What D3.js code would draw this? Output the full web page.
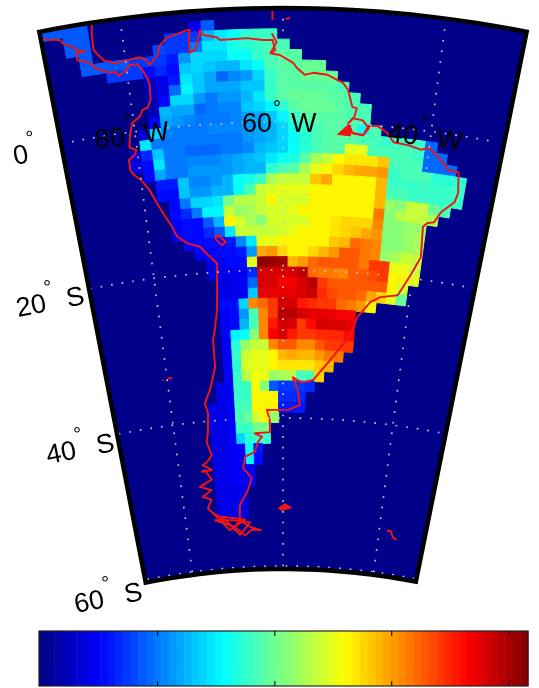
<!DOCTYPE html>
<html>
<head>
<meta charset="utf-8">
<script src="https://cdn.jsdelivr.net/npm/d3@7"></script>
<style>
html, body { margin: 0; padding: 0; background: #fff; }
svg { display: block; filter: blur(0.6px); }
text { font-family: "Liberation Sans", sans-serif; fill: #000; }
</style>
</head>
<body>
<div id="chart"></div>
<script>
const width = 539, height = 688;

// grid rows, north to south
const gridLats = [14.7,13.3,11.9,10.5,9.1,7.7,6.3,4.9,3.5,2.1,0.7,-0.7,-2.1,-3.5,-4.9,-6.3,-7.7,-9.1,-10.5,-11.9,-13.3,-14.7,-16.1,-17.5,-18.9,-20.3,-21.7,-23.1,-24.5,-25.9,-27.3,-28.7,-30.1,-31.5,-32.9,-34.3,-35.7,-37.1,-38.5,-39.9,-41.3,-42.7,-44.1,-45.5,-46.9,-48.3,-49.7,-51.1,-52.5];
const dLat = 1.4, dLon = 1.56;

// first column of each row, counted from 60W
const rowStart = [-20,-17,-17,-16,-16,-14,-11,-11,-11,-11,-11,-12,-12,-13,-13,-12,-11,-11,-10,-10,-10,-10,-9,-8,-7,-7,-6,-6,-6,-6,-6,-6,-6,-6,-6,-6,-7,-7,-8,-8,-8,-8,-8,-8,-8,-8,-8,-8,-8];

// field values as colormap index 0-63, 0 = sea
const fieldRows = [
  [13,13,13,13,13],
  [13,13,0,0,0,0,0,0,0,0,6,13],
  [13,13,0,0,0,0,0,0,11,11,11,19,22,24,26,27,27],
  [13,0,0,0,0,0,12,11,11,15,22,22,25,26,27,28,28],
  [13,13,13,13,11,11,11,9,17,21,21,21,24,24,27,28,29,29],
  [11,11,11,8,10,8,20,21,20,19,19,22,24,28,29,29,30,30],
  [4,6,9,22,20,18,14,16,17,21,27,29,29,30,30,30],
  [3,6,14,23,20,18,18,18,20,20,27,29,29,29,29,29,28],
  [3,8,21,21,17,15,17,17,19,22,27,29,30,30,30,29,29,28],
  [3,19,18,18,14,15,16,16,20,21,23,26,29,30,30,30,29,28,28],
  [8,18,17,16,15,15,15,16,18,18,20,23,27,29,29,29,29,28,28],
  [5,21,16,15,15,15,16,16,16,17,18,19,21,25,27,28,29,29,28,24,28],
  [22,15,15,15,15,15,15,15,15,17,18,19,21,24,26,28,29,29,29,28,28,27,27,27,27,14],
  [5,10,20,15,15,14,14,14,15,15,16,19,20,21,24,26,28,29,29,38,38,28,28,28,28,27,14,14],
  [6,8,22,15,15,16,16,16,17,18,19,20,22,24,25,29,34,36,40,41,41,41,43,28,28,28,14,14,14],
  [8,18,15,15,17,17,17,17,18,19,19,26,28,29,34,38,40,42,44,45,45,46,27,28,28,28,26,26,26],
  [9,9,20,16,16,17,19,24,25,27,34,36,36,36,43,45,40,40,40,40,44,27,27,27,27,27,27,27],
  [8,8,20,17,17,19,19,24,28,36,37,38,38,38,40,40,40,40,40,40,44,28,28,27,27,27,27,27],
  [8,15,21,21,22,31,35,35,36,40,37,37,37,40,40,40,40,40,40,44,33,32,36,36,30,28],
  [8,10,15,23,23,36,33,34,36,37,37,38,40,40,40,40,40,40,40,48,32,35,36,36,34],
  [7,8,8,13,19,40,37,34,32,37,37,37,37,40,40,41,42,42,42,47,32,32,33,33],
  [7,8,8,10,13,22,36,36,36,36,37,38,40,40,40,41,42,43,45,46,32,32,33,34],
  [7,8,8,8,9,16,22,38,38,40,40,40,40,40,43,44,49,48,47,32,32,33,34],
  [7,7,8,8,9,17,45,46,42,40,40,42,44,46,50,50,48,47,33,34,36,36],
  [6,7,8,8,38,63,62,61,44,46,49,50,50,50,50,48,52,52,38,38,36],
  [5,6,6,7,10,58,58,58,58,60,49,48,48,47,50,50,51,52,40,40,38],
  [6,6,7,14,58,58,56,56,58,60,52,50,50,50,50,50,50,40,36],
  [6,6,7,20,57,57,57,57,58,59,53,51,50,50,49,45,42,38,30],
  [8,8,21,47,49,52,58,58,54,53,52,52,49,48,46,40],
  [7,8,17,28,47,52,60,60,58,57,57,57,56,56],
  [7,8,19,28,47,54,58,58,52,55,58,58,58,57],
  [7,23,24,32,47,56,58,54,52,52,53,53,53,55],
  [7,26,33,36,36,47,50,50,47,47,50,52,52,52],
  [7,27,36,38,38,40,44,45,44,44,46,48,48],
  [7,26,37,38,38,40,41,41,41,41,43,44],
  [7,27,35,39,38,33,34,35,28,28,42],
  [6,7,27,27,39,32,13,11,11,11,10],
  [6,7,27,27,40,40,40,10,10,10],
  [6,6,7,28,28,40,40,40,9,9,9],
  [6,6,7,28,30,37,40,33],
  [6,6,7,27,27,31,31],
  [6,6,7,21,26,27,27],
  [6,6,7,7,24,9],
  [6,6,7,7,23,8],
  [6,6,7,7,7],
  [6,6,7,7,7],
  [6,6,6,6],
  [6,6,6,6],
  [6,6,6,6]
];

// coastlines, lon/lat
const mainCoast = [[-89.9,14.3],[-87.7,13.8],[-87.4,13.2],[-86.5,12.7],[-85.7,12],[-84.8,11.7],[-86,11.7],[-86,10.7],[-84.7,10.2],[-83.8,9.2],[-82.3,8.4],[-81.4,8.3],[-81.1,7.7],[-80.1,8.4],[-79.6,9],[-78.6,9],[-78,8.1],[-77.5,7],[-77.3,6],[-77.4,4],[-77.9,3],[-78.6,2.8],[-79.1,1.9],[-80.2,1.2],[-80.7,-0.4],[-81,-2],[-80.1,-2.5],[-80.4,-3.1],[-81.3,-3.7],[-81.3,-5.1],[-80.9,-5.8],[-80,-6.6],[-79,-8.1],[-77.9,-10.5],[-77.3,-11.7],[-76.3,-13.5],[-75.8,-14.7],[-74.3,-15.8],[-72.5,-16.4],[-71.4,-17.6],[-70.1,-18.8],[-70.6,-25.1],[-71.2,-27.8],[-71.6,-29.1],[-71.6,-32.8],[-72.8,-35.8],[-73.9,-37.5],[-73.5,-38.9],[-73.8,-41.4],[-74.2,-42.8],[-73.5,-44.6],[-74.5,-45.5],[-75.4,-45.8],[-73.7,-46.6],[-75.7,-46.7],[-75.1,-46.5],[-73.9,-47.9],[-76.4,-48.7],[-74.1,-49.3],[-76,-50.1],[-74.3,-50.6],[-75.2,-51.7],[-74.3,-52.4],[-72.9,-53],[-72,-53.9],[-70,-54.5],[-68,-55.7],[-66.5,-55],[-64.6,-55.1],[-66.9,-54.6],[-68.9,-53.6],[-68.7,-51.6],[-66.9,-49.6],[-66.1,-48],[-67.7,-46.6],[-67.2,-45.1],[-65.3,-44.5],[-64.7,-43.2],[-63.9,-42.5],[-65.2,-42],[-62.4,-41.9],[-62.4,-40.3],[-62.9,-38.9],[-61.1,-38.9],[-59.1,-38.9],[-57,-38.2],[-57.4,-36.2],[-58.3,-34.5],[-56.7,-35.2],[-54.8,-34.8],[-52,-32],[-48.9,-28.5],[-48,-26],[-46.1,-23.8],[-44.6,-23],[-41.9,-22.5],[-40.3,-19.6],[-39.1,-17],[-39.4,-12.9],[-38.8,-12.3],[-37.9,-12.1],[-37.1,-10.6],[-35.4,-9],[-35.1,-7.7],[-35.5,-4.9],[-37,-4.8],[-38.2,-3.6],[-40,-2.2],[-41.1,-2.6],[-42.8,-2.2],[-44.9,-2],[-45.9,-0.8],[-47.3,0],[-48.5,-0.1],[-49.1,-1.4],[-50.6,-1.2],[-51.2,0.1],[-50.6,0.8],[-50.4,1.2],[-50.2,2.2],[-50.8,2.3],[-51.5,4.6],[-52.2,5.5],[-54.3,6.5],[-56.1,6.7],[-57.2,6.4],[-58.2,7.3],[-58.7,8],[-60.4,9.05],[-61.6,9.3],[-61,9.7],[-61.3,11.1],[-62.5,11.1],[-64.5,11.4],[-67.9,11.3],[-68.3,11.7],[-70,12.1],[-70.3,12.8],[-71.1,10.2],[-71.8,9.8],[-71.8,11.8],[-71.6,12.9],[-72,12.9],[-74.5,12.1],[-75.5,11.2],[-75.9,9.9],[-77,8.7],[-77.4,9.4],[-78.2,9.9],[-81.2,9.5],[-82.7,10.1],[-83.8,11.7],[-83.7,14],[-83.5,15.3]];
const marajoCoast = [[-48.5,-0.1],[-48.4,-0.4],[-49.1,-1.4],[-50.6,-1.2],[-51.2,0.1],[-50.6,0.8],[-49.3,0.6],[-48.4,-0.4]];
const tipCoast = [[-74.3,-52.4],[-71.1,-54.9],[-67.8,-53.6],[-72.5,-53],[-69,-55.6],[-66.8,-54],[-70.3,-53.6],[-74,-53.4],[-70,-54.5],[-68.9,-53.6]];
const titicaca = [[-70.2,-15.4],[-69.7,-15],[-68.6,-16],[-69.2,-16.4],[-69.9,-15.7],[-70.2,-15.4]];
const georgia = [[-38.4,-54.3],[-37.6,-54.2],[-37,-55],[-36.1,-55.3]];
const fernandez = [[-80.8,-33.8],[-80.6,-33.8]];
const fernandez2 = [[-79.9,-33.6],[-79.1,-33.7]];
const antilles = [[-61.4,12],[-60.8,10.8],[-61.6,9.3]];
const antilles2 = [[-61.3,15],[-61.3,13.8]];
const antilles3 = [[-59.7,13.9],[-59.1,14.1]];
const falklands = [[-61,-52.2],[-59.6,-51.6],[-58.2,-52.1],[-60.2,-52.5]];
const amazonMouth = [[-52.6,-1.5],[-51,0.1],[-50.8,-1.6]];

// grid lines and limits
const latLines = [0,-20,-40,-60];
const lonLines = [-80,-60,-40];
const lonLimits = [-90,-30.5];
const latLimits = [-60.4,15.4];

// colorbar
const colorSteps = d3.range(64);
const barTicks = [15.46,30.8,46.1,61.5];
const jetStops = [0,0.125,0.375,0.625,0.875,1];
const jetColors = ["#000080","#0000ff","#00ffff","#ffff00","#ff0000","#800000"];

const lonLabels = [
  {num:"80", letter:"W", x:96, y:149, rot:-7.4, gap:10},
  {num:"60", letter:"W", x:242, y:132, rot:0, gap:10},
  {num:"40", letter:"W", x:387, y:141, rot:7.4, gap:10}
];
const latLabels = [
  {num:"0", letter:"", x:15, y:165, rot:-11, gap:0},
  {num:"20", letter:"S", x:18, y:317, rot:-11, gap:12},
  {num:"40", letter:"S", x:48, y:464, rot:-11, gap:12},
  {num:"60", letter:"S", x:76, y:613, rot:-11, gap:12}
];

const jet = d3.scaleLinear().domain(jetStops).range(jetColors);
const colorOf = (i) => jet((i + 0.5) / 64);

// equidistant cone, tip to the south
const coneN = 0.372, coneR = 2.70;
const proj = d3.geoProjection((lam, phi) => {
  const r = coneR + phi, t = coneN * lam;
  return [r * Math.sin(t), r * Math.cos(t) - coneR];
}).rotate([60,0]).scale(424).translate([283,122]);

const svg = d3.select("#chart").append("svg")
  .attr("width", width).attr("height", height);

const line = d3.line();
const project = (pts) => pts.map((p) => proj(p));

// outline of the map area
const topEdge = d3.range(lonLimits[0], lonLimits[1] + 1, 2).map((lon) => [lon, latLimits[1]]);
const bottomEdge = d3.range(lonLimits[1], lonLimits[0] - 1, -2).map((lon) => [lon, latLimits[0]]);
const framePath = line(project(topEdge.concat(bottomEdge))) + "Z";

svg.append("clipPath").attr("id", "mapClip").append("path").attr("d", framePath);

svg.append("path").attr("d", framePath).attr("fill", colorOf(0));

const map = svg.append("g").attr("clip-path", "url(#mapClip)");

// field cells
fieldRows.forEach((row, i) => {
  const lat = gridLats[i];
  row.forEach((v, j) => {
    if (v === 0) return;
    const lon = -60 + (rowStart[i] + j) * dLon;
    const corners = [
      [lon - dLon/2, lat + dLat/2], [lon + dLon/2, lat + dLat/2],
      [lon + dLon/2, lat - dLat/2], [lon - dLon/2, lat - dLat/2]
    ];
    map.append("path")
      .attr("d", line(project(corners)) + "Z")
      .attr("fill", colorOf(v))
      .attr("stroke", colorOf(v))
      .attr("stroke-width", 1);
  });
});

// coast
[mainCoast, marajoCoast, tipCoast, titicaca, georgia, fernandez, fernandez2, antilles, antilles2, antilles3].forEach((c) => {
  map.append("path")
    .attr("d", line(project(c)))
    .attr("fill", "none")
    .attr("stroke", "#f01414")
    .attr("stroke-width", 1.9)
    .attr("stroke-linejoin", "round");
});
[falklands, amazonMouth].forEach((c) => {
  map.append("path")
    .attr("d", line(project(c)) + "Z")
    .attr("fill", "#f01414").attr("stroke", "#f01414");
});

// dotted grid
const gridStyle = (sel) => sel.attr("fill", "none")
  .attr("stroke", "#c4c4cc")
  .attr("stroke-width", 1.7)
  .attr("stroke-dasharray", "1.7 9");

latLines.forEach((lat) => {
  const pts = d3.range(lonLimits[0], lonLimits[1] + 0.5, 1).map((lon) => [lon, lat]);
  map.append("path").attr("d", line(project(pts))).call(gridStyle);
});
lonLines.forEach((lon) => {
  const pts = [[lon, latLimits[1]], [lon, latLimits[0]]];
  map.append("path").attr("d", line(project(pts))).call(gridStyle);
});

svg.append("path").attr("d", framePath)
  .attr("fill", "none").attr("stroke", "#000").attr("stroke-width", 4.5);

// lat/lon labels
lonLabels.concat(latLabels).forEach((d) => {
  const t = svg.append("text")
    .attr("transform", `translate(${d.x},${d.y}) rotate(${d.rot})`)
    .attr("font-size", 27);
  t.append("tspan").text(d.num);
  t.append("tspan").attr("dx", 1).attr("dy", -17).attr("font-size", 20).text("°");
  if (d.letter) t.append("tspan").attr("dx", d.gap).attr("dy", 17).text(d.letter);
});

// colorbar
const barY = 631, barH = 55;
const barX = d3.scaleLinear().domain([0,64]).range([39,528]);
svg.selectAll(".bar").data(colorSteps).join("rect")
  .attr("class", "bar")
  .attr("x", (d) => barX(d))
  .attr("y", barY)
  .attr("width", (d) => barX(d + 1) - barX(d) + 0.5)
  .attr("height", barH)
  .attr("fill", (d) => colorOf(d));
svg.append("rect")
  .attr("x", 39).attr("y", barY).attr("width", 489).attr("height", barH)
  .attr("fill", "none").attr("stroke", "#222").attr("stroke-width", 1.2);

svg.append("g").attr("transform", `translate(0,${barY})`)
  .call(d3.axisBottom(barX).tickValues(barTicks).tickFormat("").tickSize(5).tickSizeOuter(0))
  .call((g) => g.select(".domain").remove());
svg.append("g").attr("transform", `translate(0,${barY + barH})`)
  .call(d3.axisTop(barX).tickValues(barTicks).tickFormat("").tickSize(5).tickSizeOuter(0))
  .call((g) => g.select(".domain").remove());
</script>
</body>
</html>
